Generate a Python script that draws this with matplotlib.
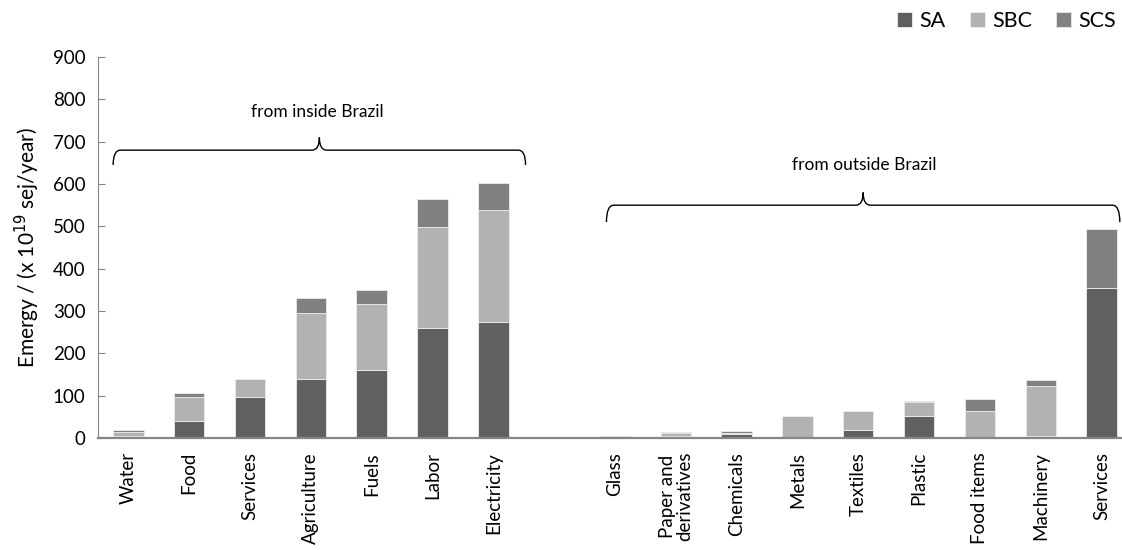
import matplotlib.pyplot as plt
from matplotlib.path import Path
from matplotlib.patches import PathPatch
import numpy as np

plt.rcParams['font.family'] = ['Lato', 'DejaVu Sans']

inside = ["Water", "Food", "Services", "Agriculture", "Fuels", "Labor", "Electricity"]
outside = ["Glass", "Paper and\nderivatives", "Chemicals", "Metals", "Textiles",
           "Plastic", "Food items", "Machinery", "Services"]

# emergy per source, x 10^19 sej/year
sa_in = [4, 41, 98, 139, 161, 260, 273]
sbc_in = [11, 55, 42, 157, 155, 238, 266]
scs_in = [3, 10, 0, 35, 34, 66, 63]

sa_out = [1, 4, 9, 0, 19, 51, 1, 4, 355]
sbc_out = [1, 7, 4, 51, 45, 34, 64, 120, 0]
scs_out = [2, 3, 4, 2, 1, 2, 26, 12, 138]

labels = inside + [""] + outside
sa = np.array(sa_in + [0] + sa_out)
sbc = np.array(sbc_in + [0] + sbc_out)
scs = np.array(scs_in + [0] + scs_out)
x = np.arange(len(labels))

c_sa, c_sbc, c_scs = "#606060", "#b2b2b2", "#808080"

fig = plt.figure(figsize=(11.22, 5.5), dpi=100)
ax = fig.add_axes([0.0873, 0.2036, 0.9216, 0.6927])

kw = dict(width=0.5, edgecolor="#ececec", linewidth=0.6)
ax.bar(x, sa, color=c_sa, label="SA", **kw)
ax.bar(x, sbc, bottom=sa, color=c_sbc, label="SBC", **kw)
ax.bar(x, scs, bottom=sa + sbc, color=c_scs, label="SCS", **kw)

ax.set_xlim(-0.5, len(labels) - 0.5)
ax.set_ylim(0, 900)
ax.set_yticks(range(0, 901, 100))
ax.set_xticks(x)
ax.set_xticklabels(labels, rotation=90, ha="center", va="top", fontsize=13.5,
                   linespacing=1.0)
ax.tick_params(axis="x", length=0, pad=10)
ax.tick_params(axis="y", direction="in", length=5, color="#868686",
               labelsize=13.5, pad=9)

for s in ["top", "right"]:
    ax.spines[s].set_visible(False)
ax.spines["left"].set_color("#868686")
ax.spines["bottom"].set_color("#868686")
ax.spines["bottom"].set_linewidth(1.6)

ax.set_ylabel("Emergy / (x 10$^{19}$ sej/year)", fontsize=15, labelpad=8)


def brace(x0, x1, y, h_end, h_tip, dx=0.12):
    xm = (x0 + x1) / 2
    verts = [(x0, y - h_end), (x0, y), (x0 + dx, y),
             (xm - dx, y), (xm, y), (xm, y + h_tip),
             (xm, y), (xm + dx, y),
             (x1 - dx, y), (x1, y), (x1, y - h_end)]
    codes = [Path.MOVETO, Path.CURVE3, Path.CURVE3,
             Path.LINETO, Path.CURVE3, Path.CURVE3,
             Path.CURVE3, Path.CURVE3,
             Path.LINETO, Path.CURVE3, Path.CURVE3]
    ax.add_patch(PathPatch(Path(verts, codes), fill=False, lw=1.0,
                           edgecolor="black", clip_on=False))


# group brackets
brace(-0.25, 6.53, 680, 35, 30)
ax.text(3.1, 770, "from inside Brazil", ha="center", va="center", fontsize=12.5)
brace(7.86, 16.3, 550, 40, 30)
ax.text(12.1, 645, "from outside Brazil", ha="center", va="center", fontsize=12.5)

fig.legend(loc="upper right", bbox_to_anchor=(1.012, 1.015), ncol=3, frameon=False,
           fontsize=15.5, handlelength=0.7, handleheight=0.7, handletextpad=0.35,
           columnspacing=1.1)

fig.savefig("out.png", dpi=100)
